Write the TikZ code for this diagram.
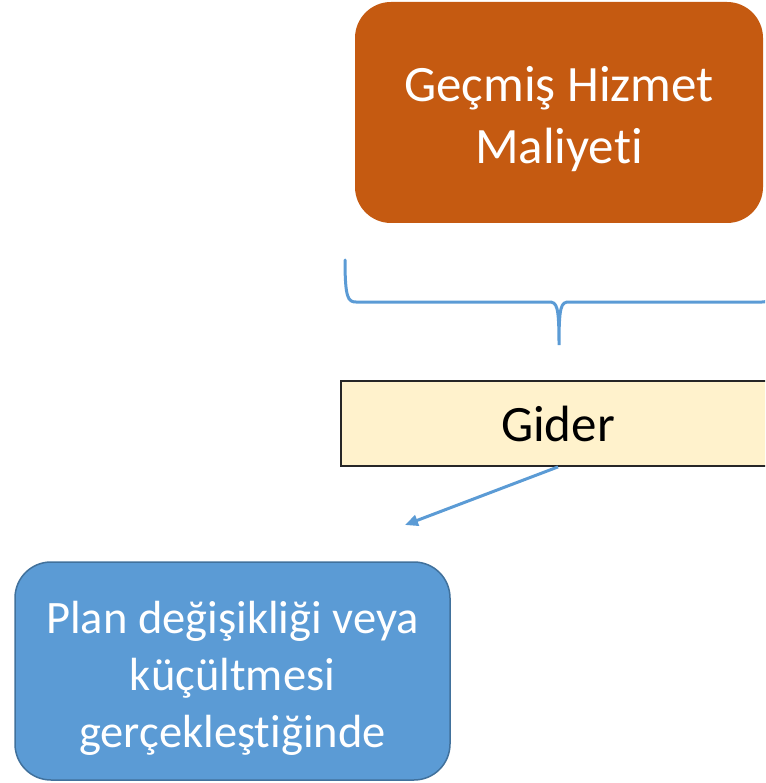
\documentclass[tikz,border=0pt]{standalone}
\usepackage{fontspec}
\setmainfont{Carlito}[Ligatures=NoCommon]
\usetikzlibrary{arrows.meta,positioning}
\definecolor{rust}{HTML}{C55A11}
\definecolor{sky}{HTML}{5B9BD5}
\definecolor{skyline}{HTML}{41719C}
\definecolor{cream}{HTML}{FFF2CC}

\begin{document}
\begin{tikzpicture}[
  x=1pt, y=-1pt,
  font=\fontsize{51}{62}\selectfont,
  >={Triangle[length=13pt, width=11pt]},
  cost/.style={fill=rust, rounded corners=36pt, text=white, align=center, minimum width=408pt, minimum height=221pt, inner sep=0pt},
  expense/.style={draw=black!85, line width=1.8pt, fill=cream, minimum width=434pt, minimum height=85pt, inner sep=0pt},
  event/.style={draw=skyline, line width=1.5pt, fill=sky, rounded corners=36pt, text=white, align=center, minimum width=435pt, minimum height=218pt, inner sep=0pt, font=\fontsize{46.5}{57}\selectfont},
  link/.style={draw=sky, line width=3pt}
]
\clip (0,0) rectangle (765,783);
\node[cost] (gecmis) at (559,112.5) {\rule{0pt}{48pt}Geçmiş Hizmet\\Maliyeti};
\node[expense] (gider) at (558,423.5) {Gider};
\node[event] (plan) at (232.5,671) {\rule{0pt}{46pt}Plan değişikliği veya\\küçültmesi\\gerçekleştiğinde};

% brace under the cost box
\coordinate (bl) at (345,260);
\coordinate (bt) at (559,345);
\coordinate (br) at (773,260);
\draw[link, line cap=round] (bl) .. controls (345,298) and (348,302) .. (356,302) -- (549,302)
  .. controls (557,302) and (559,306) .. (bt)
  .. controls (559,306) and (561,302) .. (569,302) -- (762,302)
  .. controls (770,302) and (773,298) .. (br);

\coordinate (tip) at (405,525);
\draw[link, ->] (gider.south) -- (tip);
\end{tikzpicture}
\end{document}
